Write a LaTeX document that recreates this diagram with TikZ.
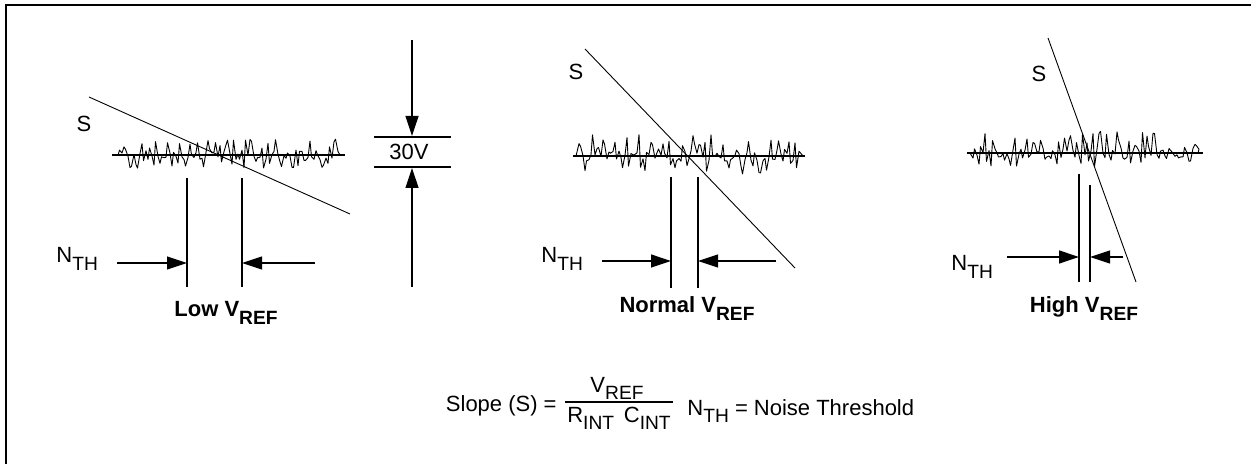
\documentclass[tikz,border=0pt]{standalone}
\usepackage{fontspec}
\setmainfont{Liberation Sans}
\usetikzlibrary{arrows.meta}
\newcommand\sbs[1]{\raisebox{-3.6pt}{\fontsize{9.6}{10}\selectfont #1}}
\begin{document}
\begin{tikzpicture}[x=0.5pt,y=-0.5pt,
  lbl/.style={inner sep=0, font=\fontsize{11}{13}\selectfont},
  bld/.style={inner sep=0, font=\fontsize{11}{13}\selectfont\bfseries},
  ln/.style={line width=0.7pt},
  slope/.style={line width=0.45pt},
  noise/.style={line width=0.45pt, line join=round},
  arr/.style={line width=0.6pt, -{Triangle[length=10pt,width=6.5pt]}},
]
\useasboundingbox (0,0) rectangle (1251,464);
\coordinate (fbl) at (6,464); \coordinate (ftl) at (6,5); \coordinate (ftr) at (1251,5);
\draw[line width=1.1pt] (fbl) -- (ftl) -- (ftr);

% ---------- Panel 1: Low VREF ----------
\pgfmathsetseed{11}
\draw[noise] (115,155) \foreach \k in {0,...,36} { -- ({118+\k*6},{155+16*rand}) -- ({119.5+\k*6},{155+16*rand}) -- ({122+\k*6},{155+5*rand}) } -- (340,155);
\coordinate (b1l) at (112,155); \coordinate (b1r) at (345,155);
\draw[ln] (b1l) -- (b1r);
\coordinate (s1a) at (89,97); \coordinate (s1b) at (350,214);
\draw[slope] (s1a) -- (s1b);
\node[lbl, anchor=base] (S1) at (84,132) {S};
\coordinate (v1at) at (187,178); \coordinate (v1ab) at (187,287);
\coordinate (v1bt) at (242,178); \coordinate (v1bb) at (242,287);
\draw[ln] (v1at) -- (v1ab); \draw[ln] (v1bt) -- (v1bb);
\coordinate (a1l) at (117,263); \coordinate (a1lt) at (187,263);
\coordinate (a1r) at (315,263); \coordinate (a1rt) at (242,263);
\draw[arr] (a1l) -- (a1lt); \draw[arr] (a1r) -- (a1rt);
\node[lbl, anchor=base west] (N1) at (56,263) {N\sbs{TH}};
\node[bld, anchor=base] (L1) at (226,317) {Low V\sbs{REF}};

% ---------- 30V dimension ----------
\coordinate (d0) at (412,40); \coordinate (d1) at (412,136);
\coordinate (d2) at (412,287); \coordinate (d3) at (412,168);
\coordinate (h1l) at (374,137); \coordinate (h1r) at (451,137);
\coordinate (h2l) at (374,167); \coordinate (h2r) at (451,167);
\draw[ln] (h1l) -- (h1r); \draw[ln] (h2l) -- (h2r);
\draw[arr] (d0) -- (d1); \draw[arr] (d2) -- (d3);
\node[lbl, anchor=base] (V30) at (409,160) {30V};

% ---------- Panel 2: Normal VREF ----------
\pgfmathsetseed{23}
\draw[noise] (576,156) \foreach \k in {0,...,36} { -- ({579+\k*6},{154+20*rand}) -- ({580.5+\k*6},{154+20*rand}) -- ({583+\k*6},{156+5*rand}) } -- (803,156);
\coordinate (b2l) at (573,156); \coordinate (b2r) at (805,156);
\draw[ln] (b2l) -- (b2r);
\coordinate (s2a) at (585,49); \coordinate (s2b) at (795,268);
\draw[slope] (s2a) -- (s2b);
\node[lbl, anchor=base] (S2) at (576,80) {S};
\coordinate (v2at) at (671,177); \coordinate (v2ab) at (671,288);
\coordinate (v2bt) at (698,177); \coordinate (v2bb) at (698,288);
\draw[ln] (v2at) -- (v2ab); \draw[ln] (v2bt) -- (v2bb);
\coordinate (a2l) at (602,261); \coordinate (a2lt) at (671,261);
\coordinate (a2r) at (776,261); \coordinate (a2rt) at (698,261);
\draw[arr] (a2l) -- (a2lt); \draw[arr] (a2r) -- (a2rt);
\node[lbl, anchor=base west] (N2) at (541,263) {N\sbs{TH}};
\node[bld, anchor=base] (L2) at (687,313) {Normal V\sbs{REF}};

% ---------- Panel 3: High VREF ----------
\pgfmathsetseed{37}
\draw[noise] (970,153) \foreach \k in {0,...,37} { -- ({973+\k*6},{149.5+18.5*rand}) -- ({974.5+\k*6},{149.5+18.5*rand}) -- ({977+\k*6},{153+5*rand}) } -- (1198,153);
\coordinate (b3l) at (967,153); \coordinate (b3r) at (1203,153);
\draw[ln] (b3l) -- (b3r);
\coordinate (s3a) at (1048,38); \coordinate (s3b) at (1136,282);
\draw[slope] (s3a) -- (s3b);
\node[lbl, anchor=base] (S3) at (1039,82) {S};
\coordinate (v3at) at (1079,174); \coordinate (v3ab) at (1079,282);
\coordinate (v3bt) at (1090,185); \coordinate (v3bb) at (1090,282);
\draw[ln] (v3at) -- (v3ab); \draw[ln] (v3bt) -- (v3bb);
\coordinate (a3l) at (1007,257); \coordinate (a3lt) at (1079,257);
\coordinate (a3r) at (1123,257); \coordinate (a3rt) at (1090,257);
\draw[arr] (a3l) -- (a3lt); \draw[arr] (a3r) -- (a3rt);
\node[lbl, anchor=base west] (N3) at (951,271) {N\sbs{TH}};
\node[bld, anchor=base] (L3) at (1084,313) {High V\sbs{REF}};

% ---------- Formula ----------
\node[lbl, anchor=base east] (F1) at (557,411) {Slope (S) =};
\coordinate (fbar1) at (565,402); \coordinate (fbar2) at (673,402);
\draw[ln] (fbar1) -- (fbar2);
\node[lbl, anchor=base] (F2) at (617,392) {V\sbs{REF}};
\node[lbl, anchor=base] (F3) at (619,422) {R\sbs{INT}\, C\sbs{INT}};
\node[lbl, anchor=base west] (F4) at (687,415) {N\sbs{TH} = Noise Threshold};
\end{tikzpicture}
\end{document}
